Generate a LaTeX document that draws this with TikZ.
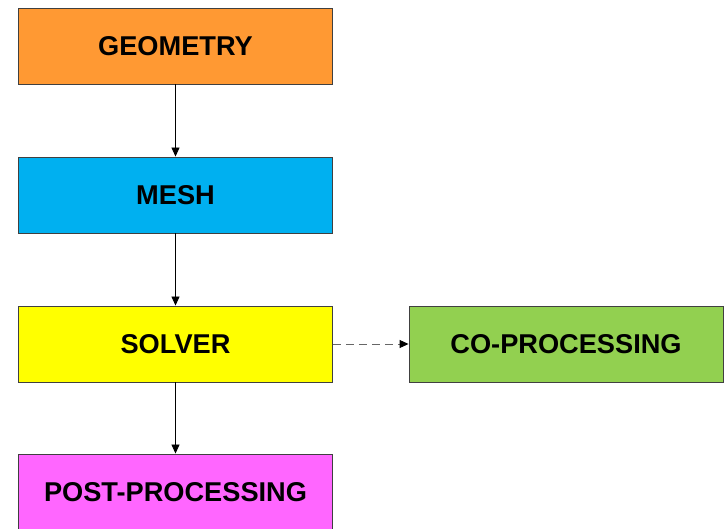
\documentclass[tikz,border=0pt]{standalone}
\usepackage{fontspec}
\setmainfont{Liberation Sans}
\usetikzlibrary{arrows.meta}
\definecolor{cgeo}{HTML}{FF9933}
\definecolor{cmesh}{HTML}{00B0F0}
\definecolor{csolv}{HTML}{FFFF00}
\definecolor{cpost}{HTML}{FF66FF}
\definecolor{ccop}{HTML}{92D050}
\definecolor{cedge}{HTML}{404040}
\begin{document}
\begin{tikzpicture}[x=1pt,y=-1pt,
  stepbox/.style={draw=cedge, line width=0.9pt, minimum width=314pt, minimum height=76pt, inner sep=0pt,
    font=\fontsize{27.2}{30}\selectfont\bfseries},
  flow/.style={-{Triangle[length=9pt,width=8pt]}, line width=0.8pt, black},
  dflow/.style={draw=black!60, dash pattern=on 8pt off 5pt, line width=0.9pt, -{Triangle[length=9pt,width=8pt,fill=black,color=black]}}]
\useasboundingbox (0,0) rectangle (725,528);
\begin{scope}
\clip (0,0) rectangle (725,528);
\node[stepbox, fill=cgeo] (geo) at (175.5,46) {GEOMETRY};
\node[stepbox, fill=cmesh] (mesh) at (175.5,195) {MESH};
\node[stepbox, fill=csolv] (solv) at (175.5,344) {SOLVER};
\node[stepbox, fill=cpost] (post) at (175.5,492) {POST-PROCESSING};
\node[stepbox, fill=ccop] (cop) at (566,344) {CO-PROCESSING};
\draw[flow] (geo) -- (mesh);
\draw[flow] (mesh) -- (solv);
\draw[flow] (solv) -- (post);
\draw[dflow] (solv) -- (cop);
\end{scope}
\end{tikzpicture}
\end{document}
